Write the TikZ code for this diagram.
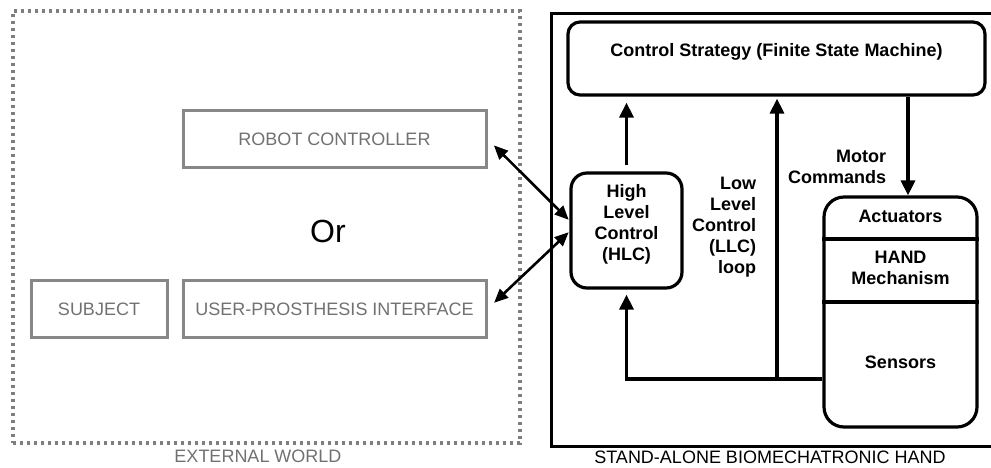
\documentclass[tikz,border=0pt]{standalone}
\usepackage{fontspec}
\setmainfont{Liberation Sans}
\usepackage{tikz}
\usetikzlibrary{arrows.meta}

\definecolor{boxgray}{HTML}{878787}
\definecolor{txtgray}{HTML}{717171}
\definecolor{dotgray}{HTML}{7E7E7E}

\begin{document}
\begin{tikzpicture}[x=1pt, y=-1pt, line width=3.2pt,
  >={Triangle[length=15pt, width=14pt]},
  ext/.style = {draw=boxgray, rectangle, line width=3pt, text=txtgray,
    minimum height=57pt, font=\fontsize{18}{21}\selectfont},
  blk/.style = {draw, align=center, font=\bfseries\fontsize{18}{21}\selectfont},
  txt/.style = {align=center, font=\bfseries\fontsize{18}{21}\selectfont},
  link/.style = {<->, line width=2.6pt, >={Triangle[length=14pt, width=12pt]}}]

\clip (0,0) rectangle (991,467);

% external world
\node[draw=dotgray, line width=3.4pt, dash pattern=on 3.4pt off 3.6pt,
  minimum width=507pt, minimum height=432pt] (world) at (266.5,227) {};
\node[text=txtgray, font=\fontsize{18}{21}\selectfont] (worldlbl) at (258,456) {EXTERNAL WORLD};

\node[ext, minimum width=303pt] (robot) at (334.5,139) {ROBOT CONTROLLER};
\node[ext, minimum width=303pt] (upi) at (334.5,309) {USER-PROSTHESIS INTERFACE};
\node[ext, minimum width=136pt] (subject) at (99,309) {SUBJECT};
\node[font=\fontsize{32}{36}\selectfont] (or) at (328,231) {Or};

% stand-alone hand
\node[draw, minimum width=460pt, minimum height=433pt, anchor=north west] (hand) at (550,12) {};
\node[font=\fontsize{18}{21}\selectfont] (handlbl) at (770,457) {STAND-ALONE BIOMECHATRONIC HAND};

\node[blk, rounded corners=12pt, minimum width=417pt, minimum height=73pt, text depth=18pt] (fsm) at (776.5,58.5)
  {Control Strategy (Finite State Machine)};
\node[blk, rounded corners=16pt, minimum width=111pt, minimum height=115pt, text depth=16pt] (hlc) at (626.5,230.5)
  {High\\Level\\Control\\(HLC)};

\node[draw, rounded corners=20pt, minimum width=153pt, minimum height=230pt] (mech) at (900.5,312) {};
\draw (mech.west |- 0,239) -- (mech.east |- 0,239);
\draw (mech.west |- 0,302) -- (mech.east |- 0,302);
\node[txt] (act) at (900.5,216) {Actuators};
\node[txt] (handmech) at (900.5,268) {HAND\\Mechanism};
\node[txt] (sens) at (900.5,362) {Sensors};

\node[txt, align=right, anchor=east] (motorlbl) at (891,167) {Motor\\Commands};
\node[txt, align=right, anchor=east] (llclbl) at (761,227) {Low\\Level\\Control\\(LLC)\\loop};

% connectors
\coordinate (split) at (777,379);
\coordinate (fb) at (mech.west |- split);

\draw[->, shorten <=6pt, shorten >=6pt] (hlc.north) -- (hlc.north |- fsm.south);
\draw[->, shorten >=2pt] (split) -- (split |- fsm.south);
\draw[->] ([xshift=7.5pt]mech.north |- fsm.south) -- ([xshift=7.5pt]mech.north);
\draw[->, shorten >=5pt] (fb) -| (hlc.south);

\draw[link, shorten <=9pt, shorten >=1pt] (robot.east) -- ([yshift=10pt]hlc.west);
\draw[link, shorten <=9pt, shorten >=1pt] (upi.east) -- ([yshift=-1pt]hlc.west);

\end{tikzpicture}
\end{document}
